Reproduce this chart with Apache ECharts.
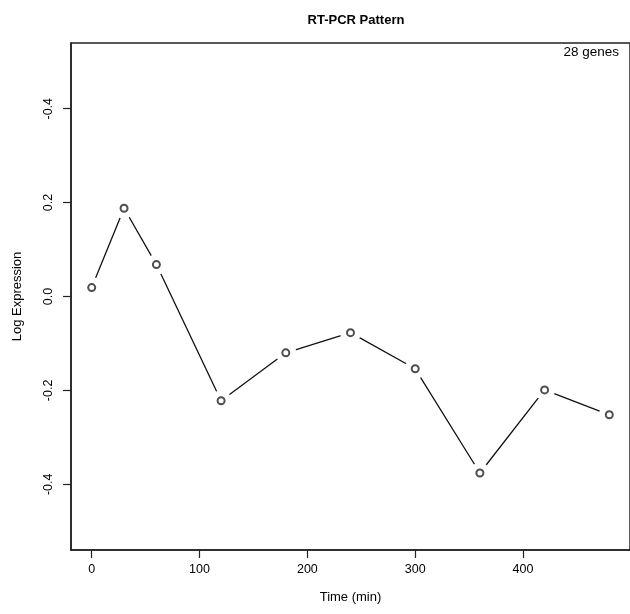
<!DOCTYPE html>
<html>
<head>
<meta charset="utf-8">
<title>RT-PCR Pattern</title>
<script src="https://cdn.jsdelivr.net/npm/echarts@6/dist/echarts.min.js"></script>
<style>
  html, body { margin: 0; padding: 0; background: #fff; }
  #main { width: 630px; height: 614px; }
</style>
</head>
<body>
<div id="main"></div>
<script>
// time points (min) and mean log expression
const times = [0, 30, 60, 120, 180, 240, 300, 360, 420, 480];
const logExpr = [0.019, 0.188, 0.068, -0.222, -0.12, -0.077, -0.154, -0.376, -0.199, -0.252];
const xTicks = [0, 100, 200, 300, 400];
const yTicks = [-0.4, -0.2, 0, 0.2, 0.4];
// labels as printed on the original (top one reads "-0.4")
const yTickLabels = ["-0.4", "-0.2", "0.0", "0.2", "-0.4"];

const FONT = "'Liberation Sans', Arial, sans-serif";
const points = times.map((t, i) => [t, logExpr[i]]);

const chart = echarts.init(document.getElementById("main"));
chart.setOption({
  animation: false,
  backgroundColor: "#fff",
  textStyle: { fontFamily: FONT },
  title: [
    {
      text: "RT-PCR Pattern",
      left: 351,
      top: 9,
      textAlign: "center",
      textStyle: { fontSize: 13, fontWeight: "bold", color: "#000", fontFamily: FONT }
    }
  ],
  graphic: [
    {
      type: "text",
      right: 11,
      top: 45,
      style: { text: "28 genes", font: "13.5px " + FONT, fill: "#000" }
    }
  ],
  grid: {
    left: 71,
    top: 43,
    width: 561,
    height: 507,
    show: true,
    borderColor: "#222",
    borderWidth: 1.5
  },
  xAxis: {
    type: "value",
    min: -19.2,
    max: 499.2,
    name: "Time (min)",
    nameLocation: "middle",
    nameGap: 41,
    nameTextStyle: { fontSize: 13, color: "#000", fontFamily: FONT },
    axisLine: { show: true, onZero: false, lineStyle: { color: "#222", width: 1.5 } },
    splitLine: { show: false },
    axisTick: { show: true, length: 8, customValues: xTicks, lineStyle: { color: "#222", width: 1.2 } },
    axisLabel: { customValues: xTicks, margin: 13, fontSize: 12.5, color: "#000", fontFamily: FONT }
  },
  yAxis: {
    type: "value",
    min: -0.54,
    max: 0.54,
    name: "Log Expression",
    nameLocation: "middle",
    nameGap: 47,
    nameRotate: 90,
    nameTextStyle: { fontSize: 13, color: "#000", fontFamily: FONT },
    axisLine: { show: true, onZero: false, lineStyle: { color: "#222", width: 1.5 } },
    splitLine: { show: false },
    axisTick: { show: true, length: 8, customValues: yTicks, lineStyle: { color: "#222", width: 1.2 } },
    axisLabel: {
      customValues: yTicks,
      rotate: 90,
      margin: 16,
      fontSize: 12.5,
      color: "#000",
      fontFamily: FONT,
      formatter: v => {
        const i = yTicks.findIndex(t => Math.abs(t - v) < 1e-9);
        return i >= 0 ? yTickLabels[i] : "";
      }
    }
  },
  series: [
    {
      // line with white disks to leave gaps round the points (R type "b")
      type: "line",
      data: points,
      symbol: "circle",
      symbolSize: 21,
      itemStyle: { color: "#fff", borderWidth: 0 },
      lineStyle: { color: "#111", width: 1.3 },
      z: 2
    },
    {
      type: "scatter",
      data: points,
      symbol: "emptyCircle",
      symbolSize: 7,
      itemStyle: { color: "#222", borderColor: "#222", borderWidth: 1 },
      z: 3
    }
  ]
});
</script>
</body>
</html>
